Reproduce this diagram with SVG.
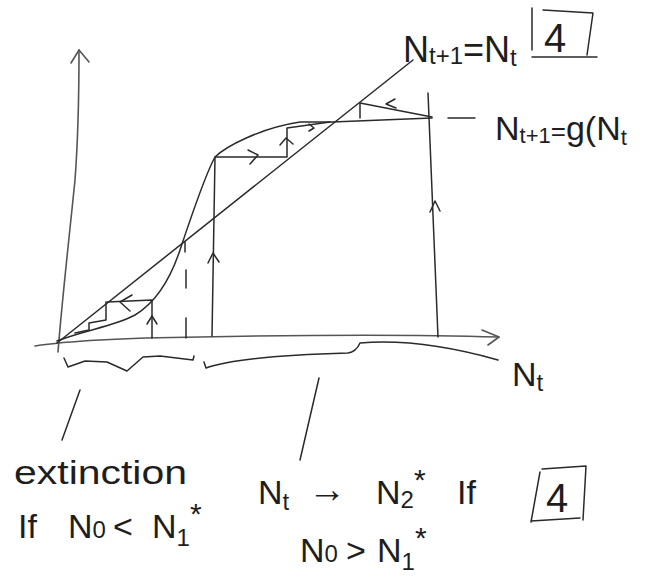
<svg xmlns="http://www.w3.org/2000/svg" width="646" height="581" viewBox="0 0 646 581">
<style>
.ln{fill:none;stroke:#2a2a2a;stroke-width:1.5;stroke-linecap:round;stroke-linejoin:round}
.ax{fill:none;stroke:#555;stroke-width:1.6;stroke-linecap:round;stroke-linejoin:round}
.tx{font-family:"Liberation Sans","DejaVu Sans",sans-serif;fill:#1e1e1e}
</style>
<rect width="646" height="581" fill="#fff"/>
<g id="axes">
  <path class="ax" d="M58,352 C62,300 70,230 75,180 C78,140 79,100 79,50"/>
  <path class="ax" d="M71,63 L79,50 L89,62"/>
  <path class="ax" d="M35,346 C60,342 120,338 200,337 C300,335 400,334 499,337"/>
  <path class="ax" d="M482,330 L499,337 L488,345"/>
</g>
<g id="curves">
  <path class="ln" d="M57,343 L413,60"/>
  <path class="ln" d="M57,341 C85,330 115,326 135,315 C155,303 170,280 180,250 C190,220 205,175 215,157 C225,147 260,128 300,122 L332,122 L432,118"/>
  <path class="ln" d="M448,118 L475,118"/>
</g>
<g id="cobweb">
  <path class="ln" d="M152,338 L152,300 L107,302"/>
  <path class="ln" d="M147,324 L152,316 L157,324"/>
  <path class="ln" d="M132,295 L120,302 L130,311"/>
  <path class="ln" d="M106,302 L106,320 L89,323 L89,330 L75,333"/>
  <path class="ln" d="M185,242 L185,252 M186,270 L186,288 M186,318 L186,338"/>
  <path class="ln" d="M212,336 L215,157 L287,157 L287,128 L330,122"/>
  <path class="ln" d="M208,263 L213,253 L219,262"/>
  <path class="ln" d="M248,150 L258,155 L250,164"/>
  <path class="ln" d="M280,145 L286,138 L293,144"/>
  <path class="ln" d="M309,124 L314,128 L309,131"/>
  <path class="ln" d="M428,93 L438,337"/>
  <path class="ln" d="M430,212 L435,201 L440,211"/>
  <path class="ln" d="M432,117 L360,103 L360,118"/>
  <path class="ln" d="M395,99 L386,104 L396,108"/>
</g>
<g id="braces">
  <path class="ln" d="M64,358 L68,367 L85,361 L107,362 L127,371 L143,357 L160,356 L193,360 L194,356"/>
  <path class="ln" d="M204,362 L206,368 Q240,356 348,353 Q356,352 360,343 Q420,338 498,360"/>
  <path class="ln" d="M80,390 L62,440"/>
  <path class="ln" d="M319,378 L300,460"/>
</g>
<g id="label-diag">
  <text class="tx" x="403" y="62" font-size="36">N<tspan font-size="24" dy="2">t+1</tspan><tspan dy="-2">=N</tspan><tspan font-size="24" dy="4">t</tspan></text>
  <path class="ln" d="M532,8 L532,50 M543,10 L593,13 L587,55 M532,57 L597,57"/>
  <text class="tx" x="544" y="52" font-size="40">4</text>
</g>
<g id="label-g">
  <text class="tx" x="495" y="140" font-size="34">N<tspan font-size="22" dy="3">t+1</tspan><tspan font-size="26" dy="-3">=</tspan><tspan>g(N</tspan><tspan font-size="22" dy="5">t</tspan></text>
</g>
<g id="label-x">
  <text class="tx" x="512" y="386" font-size="34">N<tspan font-size="24" dy="5">t</tspan></text>
</g>
<g id="label-extinction">
  <text class="tx" x="14" y="484" font-size="34" textLength="173" lengthAdjust="spacingAndGlyphs">extinction</text>
  <text class="tx" x="18" y="538" font-size="34">If <tspan x="68">N</tspan><tspan font-size="24">0</tspan><tspan x="113">&lt;</tspan><tspan x="152">N</tspan><tspan font-size="24" dy="8">1</tspan><tspan font-size="30" dy="-22">*</tspan></text>
</g>
<g id="label-stable">
  <text class="tx" x="258" y="504" font-size="34">N<tspan font-size="24" dy="6">t</tspan><tspan x="308" dy="-8" font-size="38">→</tspan><tspan x="376" dy="2">N</tspan><tspan font-size="24" dy="4">2</tspan><tspan font-size="30" dy="-18">*</tspan><tspan x="457" dy="14">If</tspan></text>
  <text class="tx" x="300" y="562" font-size="34">N<tspan font-size="24">0</tspan><tspan x="346">&gt;</tspan><tspan x="377">N</tspan><tspan font-size="24" dy="8">1</tspan><tspan font-size="30" dy="-22">*</tspan></text>
  <path class="ln" d="M540,472 L531,522 M542,469 L586,466 L583,520 M531,521 L580,518"/>
  <text class="tx" x="546" y="512" font-size="40">4</text>
</g>
</svg>
